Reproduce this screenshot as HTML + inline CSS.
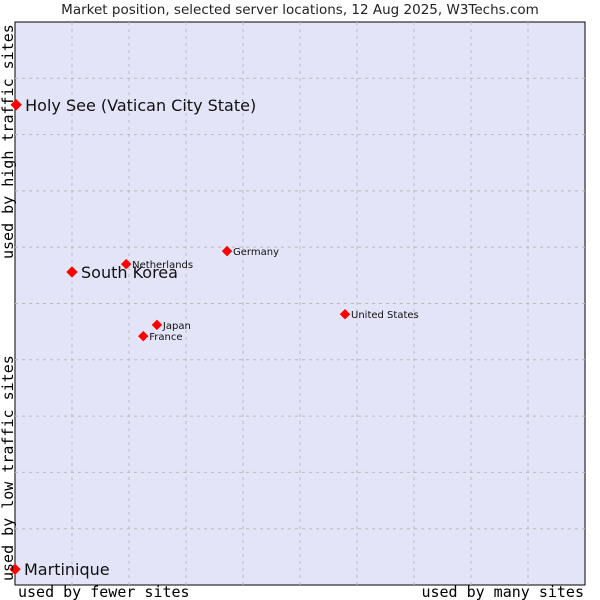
<!DOCTYPE html>
<html><head><meta charset="utf-8"><style>
body{margin:0;background:#fff;width:600px;height:600px;overflow:hidden}
svg{display:block}
</style></head><body>
<svg id="chart" width="600" height="600" xmlns="http://www.w3.org/2000/svg">
<text x="300" y="14" text-anchor="middle" font-family="DejaVu Sans, sans-serif" font-size="13.5" fill="#222">Market position, selected server locations, 12 Aug 2025, W3Techs.com</text>
<rect x="15" y="22" width="570" height="563" fill="#e3e4f8" stroke="#000" stroke-width="1"/>
<g id="grid"></g>
<g id="points"></g>
<text x="13" y="581" transform="rotate(-90 13 581)" font-family="DejaVu Sans Mono, monospace" font-size="15" fill="#000">used by low traffic sites</text>
<text x="13" y="259" transform="rotate(-90 13 259)" font-family="DejaVu Sans Mono, monospace" font-size="15" fill="#000">used by high traffic sites</text>
<text x="18" y="597" font-family="DejaVu Sans Mono, monospace" font-size="15" fill="#000">used by fewer sites</text>
<text x="584" y="597" text-anchor="end" font-family="DejaVu Sans Mono, monospace" font-size="15" fill="#000">used by many sites</text>
</svg>
<script>
const names=["Holy See (Vatican City State)","South Korea","Netherlands","Germany","United States","Japan","France","Martinique"];
const xValues=[0.2,10,19.5,37.2,57.9,24.9,22.5,0];
const yValues=[85.3,55.6,57,59.3,48.1,46.2,44.2,2.8];
const bigLabel=[true,true,false,false,false,false,false,true];
const L=15,T=22,W=570,H=563;
const sx=v=>L+v/100*W, sy=v=>T+H-v/100*H;
const NS="http://www.w3.org/2000/svg";
const grid=document.getElementById('grid'), pts=document.getElementById('points');
for(let i=1;i<10;i++){
  let l=document.createElementNS(NS,'line');
  l.setAttribute('x1',sx(i*10));l.setAttribute('x2',sx(i*10));l.setAttribute('y1',T);l.setAttribute('y2',T+H);
  l.setAttribute('stroke','#bbb');l.setAttribute('stroke-dasharray','3,4');
  
  
  grid.appendChild(l);
  let h=document.createElementNS(NS,'line');
  h.setAttribute('y1',sy(i*10));h.setAttribute('y2',sy(i*10));h.setAttribute('x1',L);h.setAttribute('x2',L+W);
  h.setAttribute('stroke','#bbb');h.setAttribute('stroke-dasharray','3,4');
  
  
  grid.appendChild(h);
}
names.forEach((n,i)=>{
  const x=sx(xValues[i]),y=sy(yValues[i]);
  const r=bigLabel[i]?5:4.5;
  let d=document.createElementNS(NS,'polygon');
  d.setAttribute('points',`${x},${y-r} ${x+r},${y} ${x},${y+r} ${x-r},${y}`);
  d.setAttribute('fill','#f00');
  d.setAttribute('stroke','#f00');
  d.setAttribute('stroke-width','1');
  
  
  pts.appendChild(d);
  let t=document.createElementNS(NS,'text');
  t.setAttribute('x',x+(bigLabel[i]?9:6));
  t.setAttribute('y',y+(bigLabel[i]?6:4));
  t.setAttribute('font-family','DejaVu Sans, sans-serif');
  t.setAttribute('font-size',bigLabel[i]?'16':'10');
  t.setAttribute('fill','#111');
  t.textContent=n;
  
  
  pts.appendChild(t);
});
</script>
</body></html>
